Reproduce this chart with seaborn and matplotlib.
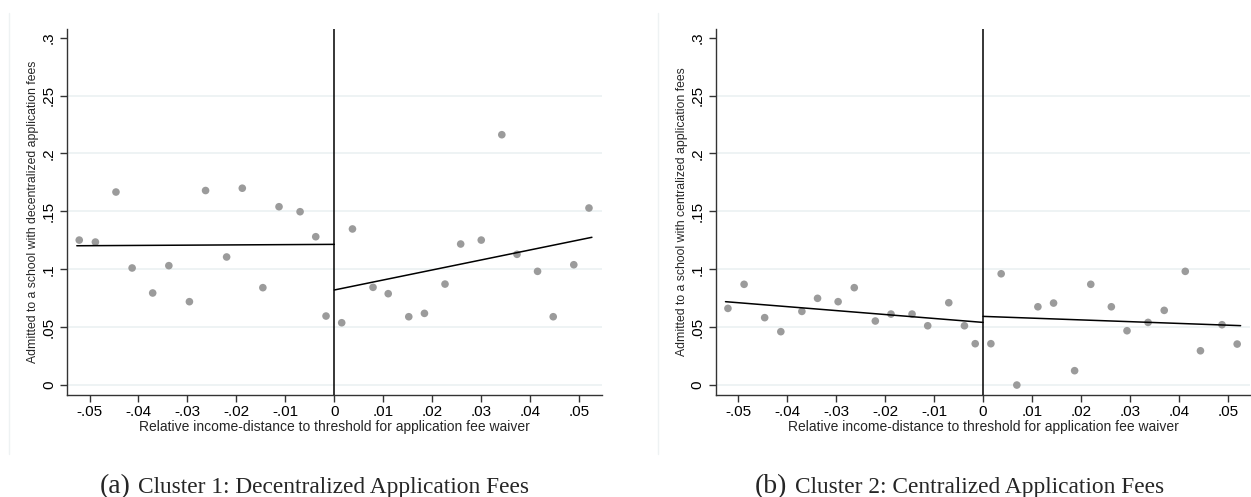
import matplotlib
matplotlib.use("Agg")
import matplotlib.pyplot as plt
import seaborn as sns
import pandas as pd
from matplotlib.lines import Line2D

# ---------------- data ----------------
# Panel (a): decentralized application fees
a_x = [-0.0521, -0.0488, -0.0446, -0.0413, -0.0371, -0.0338, -0.0296, -0.0263,
       -0.0220, -0.0188, -0.0146, -0.0113, -0.0070, -0.0038, -0.0017,
       0.0015, 0.0037, 0.0079, 0.0110, 0.0152, 0.0184, 0.0226, 0.0258,
       0.0300, 0.0342, 0.0373, 0.0415, 0.0447, 0.0489, 0.0520]
a_y = [0.1252, 0.1235, 0.1667, 0.1011, 0.0795, 0.1031, 0.0720, 0.1680,
       0.1106, 0.1700, 0.0841, 0.1540, 0.1497, 0.1281, 0.0596,
       0.0538, 0.1348, 0.0844, 0.0789, 0.0590, 0.0619, 0.0872, 0.1218,
       0.1252, 0.2162, 0.1129, 0.0982, 0.0590, 0.1039, 0.1529]
a_fit_left_x = [-0.0526, 0.0]
a_fit_left_y = [0.1203, 0.1215]
a_fit_right_x = [0.0, 0.0526]
a_fit_right_y = [0.0821, 0.1276]

# Panel (b): centralized application fees
b_x = [-0.0521, -0.0488, -0.0446, -0.0413, -0.0370, -0.0338, -0.0296, -0.0263,
       -0.0220, -0.0188, -0.0145, -0.0113, -0.0070, -0.0038, -0.0016,
       0.0016, 0.0037, 0.0069, 0.0112, 0.0144, 0.0187, 0.0220, 0.0262,
       0.0294, 0.0337, 0.0370, 0.0413, 0.0444, 0.0488, 0.0519]
b_y = [0.0662, 0.0870, 0.0582, 0.0461, 0.0636, 0.0749, 0.0720, 0.0841,
       0.0553, 0.0613, 0.0613, 0.0512, 0.0711, 0.0512, 0.0357,
       0.0357, 0.0961, 0.0000, 0.0676, 0.0708, 0.0124, 0.0870, 0.0676,
       0.0469, 0.0541, 0.0645, 0.0982, 0.0296, 0.0521, 0.0354]
b_fit_left_x = [-0.0526, 0.0]
b_fit_left_y = [0.0720, 0.0541]
b_fit_right_x = [0.0, 0.0526]
b_fit_right_y = [0.0593, 0.0513]

x_ticks = [-0.05, -0.04, -0.03, -0.02, -0.01, 0.0, 0.01, 0.02, 0.03, 0.04, 0.05]
x_tick_labels = ["-.05", "-.04", "-.03", "-.02", "-.01", "0",
                 ".01", ".02", ".03", ".04", ".05"]
y_ticks = [0.0, 0.05, 0.10, 0.15, 0.20, 0.25, 0.30]
y_tick_labels = ["0", ".05", ".1", ".15", ".2", ".25", ".3"]
grid_ticks = [0.0, 0.05, 0.10, 0.15, 0.20, 0.25]

x_label = "Relative income-distance to threshold for application fee waiver"
y_label_a = "Admitted to a school with decentralized application fees"
y_label_b = "Admitted to a school with centralized application fees"
caption_tag_a = "(a)"
caption_a = "Cluster 1: Decentralized Application Fees"
caption_tag_b = "(b)"
caption_b = "Cluster 2: Centralized Application Fees"

# ---------------- style ----------------
sns.set_style("white")
plt.rcParams["font.family"] = ["Liberation Sans", "DejaVu Sans"]

W, H = 1251, 497
fig = plt.figure(figsize=(W / 100, H / 100), dpi=100)

def fx(px):
    return px / W

def fy(py):
    return (H - py) / H

ax_w = 534.7
ax_top, ax_bot = 29, 395
ax_a = fig.add_axes([fx(67), fy(ax_bot), ax_w / W, (ax_bot - ax_top) / H])
ax_b = fig.add_axes([fx(715.7), fy(ax_bot), ax_w / W, (ax_bot - ax_top) / H])

point_color = "#9b9b9b"
grid_color = "#e9f0f1"

def draw_panel(ax, xs, ys, flx, fly, frx, fry, ylab):
    ax.set_xlim(-0.0546, 0.0546)
    ax.set_ylim(-0.0086, 0.3075)
    for g in grid_ticks:
        ax.axhline(g, color=grid_color, lw=1.1, zorder=0)
    df = pd.DataFrame({"x": xs, "y": ys})
    sns.scatterplot(data=df, x="x", y="y", ax=ax, color=point_color,
                    s=30, edgecolor="none", linewidth=0, zorder=3)
    sns.lineplot(x=flx, y=fly, ax=ax, color="black", lw=1.1, zorder=4)
    sns.lineplot(x=frx, y=fry, ax=ax, color="black", lw=1.1, zorder=4)
    ax.axvline(0, color="black", lw=1.1, zorder=4)

    ax.set_xticks(x_ticks)
    ax.set_xticklabels(x_tick_labels)
    ax.set_yticks(y_ticks)
    ax.set_yticklabels(y_tick_labels, rotation=90, va="center")
    ax.tick_params(axis="both", direction="out", length=5, width=1,
                   color="#333333", labelsize=11, labelcolor="black",
                   bottom=True, left=True, top=False, right=False)
    ax.tick_params(axis="x", pad=2)
    ax.tick_params(axis="y", pad=3)
    for s in ["top", "right"]:
        ax.spines[s].set_visible(False)
    for s in ["left", "bottom"]:
        ax.spines[s].set_color("#333333")
        ax.spines[s].set_linewidth(1.0)
    ax.grid(False)

    ax.set_xlabel(x_label, fontsize=10)
    ax.set_ylabel(ylab, fontsize=8.8)
    ax.xaxis.set_label_coords(0.5, (ax_bot - 426.7) / (ax_bot - ax_top))
    ax.xaxis.label.set_va("center")
    ax.yaxis.set_label_coords(-34 / ax_w, 0.5)
    ax.yaxis.label.set_va("center")

draw_panel(ax_a, a_x, a_y, a_fit_left_x, a_fit_left_y, a_fit_right_x, a_fit_right_y, y_label_a)
draw_panel(ax_b, b_x, b_y, b_fit_left_x, b_fit_left_y, b_fit_right_x, b_fit_right_y, y_label_b)

# faint panel frame edges
for xe in (9.3, 658.3):
    fig.add_artist(Line2D([fx(xe), fx(xe)], [fy(13), fy(454)],
                          color="#eef2f3", lw=1.0, transform=fig.transFigure))

# captions
serif = ["Liberation Serif", "DejaVu Serif"]
base_y = fy(493.3)
fig.text(fx(100), base_y, caption_tag_a, family=serif, fontsize=20, va="baseline", ha="left")
fig.text(fx(138), base_y, caption_a, family=serif, fontsize=16.8, va="baseline", ha="left")
fig.text(fx(755), base_y, caption_tag_b, family=serif, fontsize=20, va="baseline", ha="left")
fig.text(fx(795), base_y, caption_b, family=serif, fontsize=16.8, va="baseline", ha="left")

fig.savefig("out.png", dpi=100)
